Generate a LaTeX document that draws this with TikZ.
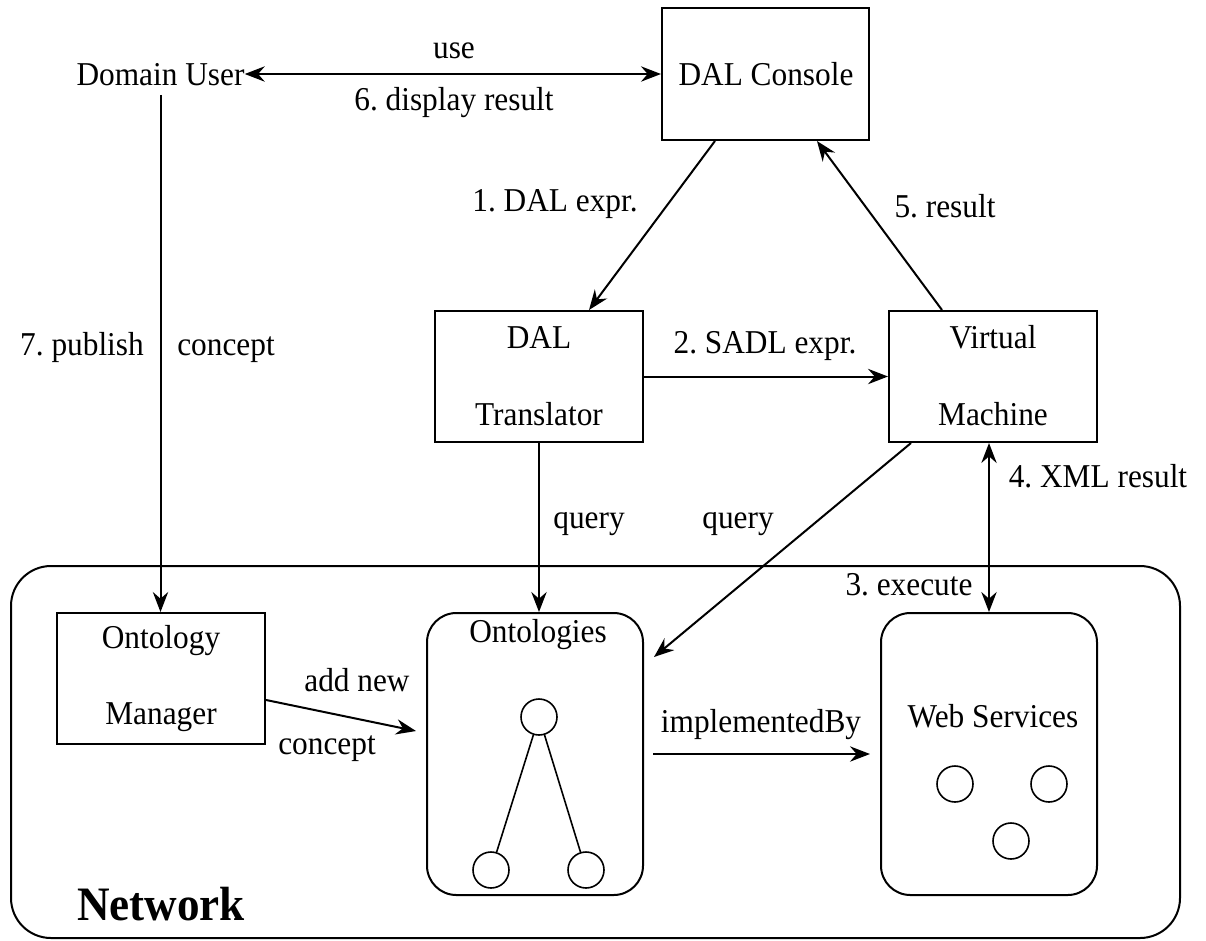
\documentclass[tikz,border=0pt]{standalone}
\usepackage{fontspec}
\setmainfont{Liberation Serif}[FakeStretch=0.94]
\usetikzlibrary{arrows.meta}
\frenchspacing
\begin{document}
\begin{tikzpicture}[x=0.75pt,y=-0.75pt,
  every node/.style={font=\fontsize{25}{30}\selectfont},
  lbl/.style={anchor=base,inner sep=0pt},
  sqbox/.style={draw,line width=1.5pt,inner sep=0pt,minimum width=156pt,minimum height=98.25pt},
  rbox/.style={draw,line width=1.5pt,inner sep=0pt,rounded corners=22pt,minimum width=162pt,minimum height=211.5pt},
  dot/.style={draw,circle,line width=1.2pt,minimum size=27pt,inner sep=0pt},
  conn/.style={line width=1.5pt,-{Stealth[length=15pt,width=11.5pt,inset=5pt]}},
  dconn/.style={line width=1.5pt,{Stealth[length=15pt,width=11.5pt,inset=5pt]}-{Stealth[length=15pt,width=11.5pt,inset=5pt]}},
  thin/.style={line width=1.2pt}
]
\useasboundingbox (0,0) rectangle (1206,940);

% network container
\node[draw,line width=1.5pt,inner sep=0pt,rounded corners=30pt,minimum width=876.75pt,minimum height=279pt] (net) at (595.5,752) {};
\node[lbl,font=\fontsize{36}{42}\selectfont\bfseries] (netlbl) at (161,920) {Network};

% top part
\node[lbl] (du) at (160.5,85) {Domain User};
\node[draw,line width=1.5pt,inner sep=0pt,minimum width=155.25pt,minimum height=99pt] (dc) at (765.5,74) {};
\node[lbl] (dcA) at (766,85) {DAL Console};

\node[sqbox] (dt) at (539,376.5) {};
\node[lbl] (dtA) at (539,348) {DAL};
\node[lbl] (dtB) at (539,425) {Translator};

\node[sqbox] (vm) at (993,376.5) {};
\node[lbl] (vmA) at (993,348) {Virtual};
\node[lbl] (vmB) at (993,425) {Machine};

\node[sqbox] (om) at (161,678.5) {};
\node[lbl] (omA) at (161,648) {Ontology};
\node[lbl] (omB) at (161,724) {Manager};

\node[rbox] (on) at (535,754) {};
\node[lbl] (onA) at (538,642) {Ontologies};
\node[dot] (c1) at (539,717) {};
\node[dot] (c2) at (491,870) {};
\node[dot] (c3) at (586,870) {};
\draw[thin] (c1) -- (c2);
\draw[thin] (c1) -- (c3);

\node[rbox] (ws) at (989,754) {};
\node[lbl] (wsA) at (993,727) {Web Services};
\node[dot] (w1) at (955,784) {};
\node[dot] (w2) at (1049,784) {};
\node[dot] (w3) at (1011,841) {};

% connectors
\draw[dconn] (du.east |- dc.west) -- (dc.west);
\node[lbl] (use) at (454,58) {use};
\node[lbl] (disp) at (454,110) {6. display result};

\draw[conn] ([xshift=-37.9pt]dc.south) -- ([xshift=37.5pt]dt.north);
\node[lbl] (l1) at (555,211) {1. DAL expr.};

\draw[conn] ([xshift=-38.25pt]vm.north) -- ([xshift=38.6pt]dc.south);
\node[lbl] (l5) at (945,217) {5. result};

\draw[conn] (dt.east) -- (vm.west);
\node[lbl] (l2) at (765,353) {2. SADL expr.};

\draw[dconn] (vm.south -| ws.north) -- (ws.north);
\node[lbl] (l4) at (1098,487) {4. XML result};
\node[lbl] (l3) at (909,595) {3. execute};

\draw[conn] (dt.south) -- (dt.south |- on.north);
\node[lbl] (q1) at (589,528) {query};

\coordinate (qs) at ([xshift=17.25pt]vm.south west);
\coordinate (qe) at ([xshift=7.5pt,yshift=72.75pt]on.east);
\draw[conn] (qs) -- (qe);
\node[lbl] (q2) at (738,528) {query};

\draw[conn,shorten <=7pt] (du.south) -- (du.south |- om.north);
\node[lbl] (l7) at (82,355) {7. publish};
\node[lbl] (l7b) at (226,355) {concept};

\draw[conn] ([yshift=-16.1pt]om.east) -- ([xshift=-7.5pt,yshift=17.25pt]on.west);
\node[lbl] (an) at (357,691) {add new};
\node[lbl] (ac) at (327,754) {concept};

\draw[conn,shorten <=6.75pt,shorten >=7.5pt] (on.east) -- (ws.west);
\node[lbl] (impl) at (761,732) {implementedBy};
\end{tikzpicture}
\end{document}
